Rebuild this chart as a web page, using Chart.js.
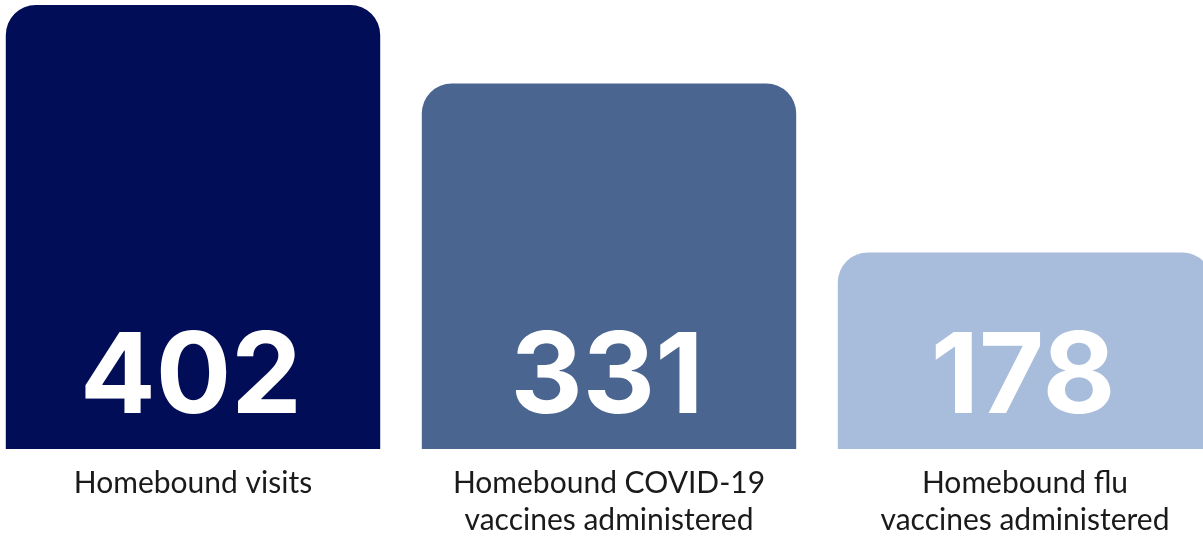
<!DOCTYPE html>
<html>
<head>
<meta charset="utf-8">
<script src="https://cdn.jsdelivr.net/npm/chart.js@4/dist/chart.umd.min.js"></script>
<style>
  html, body { margin: 0; padding: 0; background: #ffffff; overflow: hidden; width: 1203px; height: 537px; }
  #wrap { position: absolute; left: -15px; top: 0; width: 1248px; height: 537px; }
</style>
</head>
<body>
<div id="wrap"><canvas id="c"></canvas></div>
<script>
const categories = [
  ["Homebound visits"],
  ["Homebound COVID-19", "vaccines administered"],
  ["Homebound flu", "vaccines administered"]
];
const values = [402, 331, 178];
const barColors = ["#010d56", "#4a658f", "#a8bcdb"];

const valueLabels = {
  id: 'valueLabels',
  afterDatasetsDraw(chart) {
    const ctx = chart.ctx;
    const meta = chart.getDatasetMeta(0);
    const base = chart.scales.y.getPixelForValue(0);
    ctx.save();
    ctx.fillStyle = '#ffffff';
    ctx.font = '700 112px Inter';
    ctx.textAlign = 'center';
    ctx.textBaseline = 'alphabetic';
    meta.data.forEach((bar, i) => {
      ctx.fillText(String(values[i]), bar.x - 2, base - 36);
    });
    ctx.restore();
  }
};

new Chart(document.getElementById('c'), {
  type: 'bar',
  data: {
    labels: categories,
    datasets: [{
      data: values,
      backgroundColor: barColors,
      borderWidth: 0,
      borderRadius: 30,
      borderSkipped: 'start',
      barPercentage: 0.9,
      categoryPercentage: 1.0
    }]
  },
  options: {
    responsive: true,
    maintainAspectRatio: false,
    animation: false,
    layout: { padding: { top: 5, left: 0, right: 0, bottom: 0 } },
    plugins: { legend: { display: false }, tooltip: { enabled: false } },
    scales: {
      y: { display: false, min: 0, max: 402 },
      x: {
        grid: { display: false, drawTicks: false },
        border: { display: false },
        afterFit(scale) { scale.height = 88; },
        ticks: {
          color: '#1a1a1a',
          padding: 16,
          font: { family: 'Lato', size: 30, lineHeight: 1.23 },
          maxRotation: 0,
          autoSkip: false
        }
      }
    }
  },
  plugins: [valueLabels]
});
</script>
</body>
</html>
